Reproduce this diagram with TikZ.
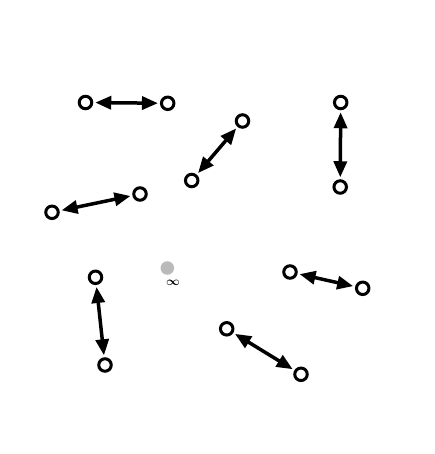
\documentclass[tikz,border=0pt]{standalone}
\usetikzlibrary{arrows.meta}
\tikzset{>={Triangle[length=16pt,width=13pt]}}
\begin{document}
\begin{tikzpicture}[x=1pt,y=-1pt,
  pt/.style={circle,draw,line width=3pt,minimum size=12.5pt,inner sep=0pt,outer sep=3.5pt},
  conn/.style={line width=3.5pt,<->},
  ghost/.style={circle,fill=black!27,minimum size=13.5pt,inner sep=0pt}]
\useasboundingbox (0,0) rectangle (435,454);
\node[pt] (a1) at (85.5,102.5) {};
\node[pt] (a2) at (167.7,103.3) {};
\node[pt] (b1) at (242.5,121) {};
\node[pt] (b2) at (191.7,180.5) {};
\node[pt] (c1) at (340.7,102.5) {};
\node[pt] (c2) at (340.2,187) {};
\node[pt] (d1) at (52,212.3) {};
\node[pt] (d2) at (140,194) {};
\node[pt] (e1) at (95.5,277.3) {};
\node[pt] (e2) at (105,365) {};
\node[pt] (f1) at (290,272) {};
\node[pt] (f2) at (362.7,288.3) {};
\node[pt] (g1) at (226.7,328.8) {};
\node[pt] (g2) at (301,374.3) {};
\node[ghost] (o) at (167.3,268) {};
\node[inner sep=0pt,font=\fontsize{13}{15}\selectfont\boldmath] (inf) at (173,282.5) {$\infty$};
\draw[conn] (a1) -- (a2);
\draw[conn] (b1) -- (b2);
\draw[conn] (c1) -- (c2);
\draw[conn] (d1) -- (d2);
\draw[conn] (e1) -- (e2);
\draw[conn] (f1) -- (f2);
\draw[conn] (g1) -- (g2);
\end{tikzpicture}
\end{document}
